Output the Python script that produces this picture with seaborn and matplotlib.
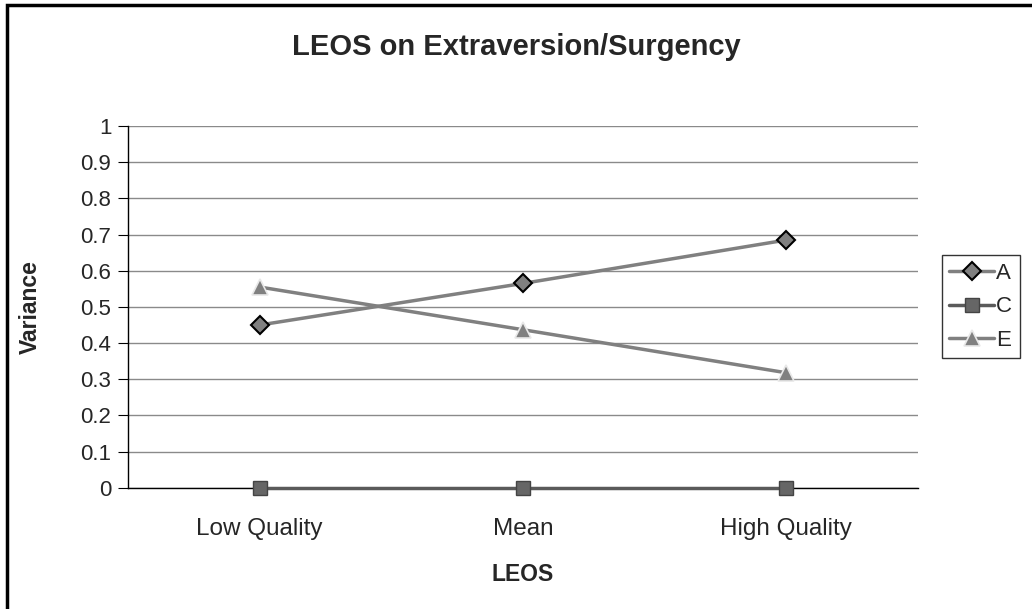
import matplotlib
matplotlib.use('Agg')
import matplotlib.pyplot as plt
import seaborn as sns
import pandas as pd

categories = ['Low Quality', 'Mean', 'High Quality']
series_a = [0.45, 0.565, 0.685]
series_c = [0.0, 0.0, 0.0]
series_e = [0.555, 0.437, 0.318]
y_ticks = [0, 0.1, 0.2, 0.3, 0.4, 0.5, 0.6, 0.7, 0.8, 0.9, 1]

sns.set_style('white')
plt.rcParams['font.family'] = ['Liberation Sans', 'DejaVu Sans']

df = pd.DataFrame({
    'LEOS': categories * 3,
    'pos': [0, 1, 2] * 3,
    'Variance': series_a + series_c + series_e,
    'serie': ['A'] * 3 + ['C'] * 3 + ['E'] * 3,
})

fig = plt.figure(figsize=(10.32, 6.09), dpi=100)
ax = fig.add_axes([0.124, 0.199, 0.7655, 0.594])

styles = {
    'A': dict(color='#808080', marker='D', markersize=9, mfc='#808080', mec='black', mew=1.5),
    'C': dict(color='#5a5a5a', marker='s', markersize=10.5, mfc='#666666', mec='#444444', mew=1),
    'E': dict(color='#808080', marker='^', markersize=12, mfc='#808080', mec='#e8e8e8', mew=1.2),
}
for name in ['A', 'C', 'E']:
    sub = df[df['serie'] == name]
    sns.lineplot(data=sub, x='pos', y='Variance', ax=ax, label=name, lw=2.5,
                 clip_on=False, zorder=3, **styles[name])

ax.set_xlim(-0.5, 2.5)
ax.set_ylim(0, 1)
ax.set_yticks(y_ticks)
ax.set_yticklabels([f'{t:g}' for t in y_ticks], fontsize=16)
ax.set_xticks([-0.5, 0.5, 1.5, 2.5])
ax.set_xticklabels([])
ax.set_xticks([0, 1, 2], minor=True)
ax.set_xticklabels(categories, minor=True, fontsize=17.5)
ax.tick_params(axis='x', which='major', direction='out', length=7, color='black')
ax.tick_params(axis='x', which='minor', length=0, pad=22)
ax.tick_params(axis='y', direction='out', length=7, color='black', left=True, pad=5)
ax.grid(axis='y', color='#8a8a8a', lw=1)
ax.set_axisbelow(True)
for s in ['top', 'right']:
    ax.spines[s].set_visible(False)
for s in ['left', 'bottom']:
    ax.spines[s].set_color('black')
    ax.spines[s].set_linewidth(1)

ax.set_xlabel('LEOS', fontsize=16.5, fontweight='bold', labelpad=16)
ax.set_ylabel('Variance', fontsize=16.5, fontweight='bold', labelpad=28)
fig.text(0.5, 0.923, 'LEOS on Extraversion/Surgency', ha='center', va='center',
         fontsize=21, fontweight='bold')

leg = ax.legend(loc='center left', bbox_to_anchor=(1.03, 0.5), frameon=True,
                fontsize=16, handlelength=2.0, handletextpad=0.1, borderpad=0.35,
                borderaxespad=0, labelspacing=0.55, fancybox=False, edgecolor='black')
leg.get_frame().set_linewidth(1)

# outer chart border
fig.patches.append(plt.Rectangle((0.007, -0.05), 1.05, 1.042, transform=fig.transFigure,
                                 fill=False, edgecolor='black', lw=2.5))

fig.savefig('out.png', dpi=100)
